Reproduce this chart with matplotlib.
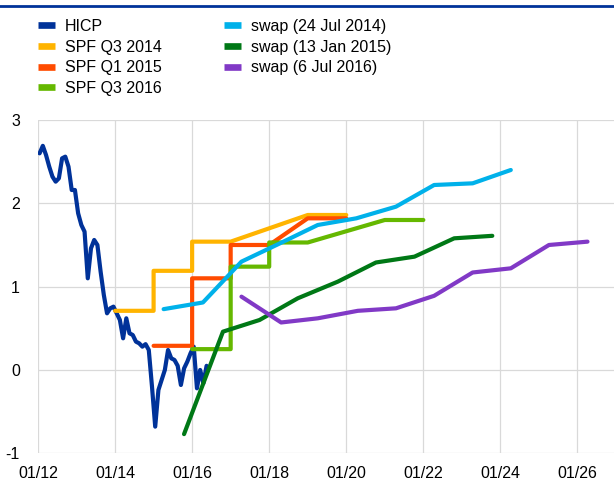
import numpy as np
import matplotlib
matplotlib.use("Agg")
import matplotlib.pyplot as plt
from matplotlib.lines import Line2D

plt.rcParams['font.family'] = ['Liberation Sans', 'DejaVu Sans']
plt.rcParams['axes.unicode_minus'] = False

# HICP, monthly, Jan 2012 - May 2016 (annual % change)
hicp = [2.60, 2.69, 2.58, 2.44, 2.32, 2.26, 2.30, 2.54, 2.56, 2.44, 2.16, 2.16,
        1.88, 1.74, 1.66, 1.10, 1.46, 1.56, 1.50, 1.18, 0.90, 0.68, 0.74, 0.76,
        0.68, 0.60, 0.38, 0.62, 0.44, 0.42, 0.34, 0.32, 0.28, 0.31, 0.24, -0.20,
        -0.68, -0.24, -0.12, 0.00, 0.24, 0.14, 0.12, 0.05, -0.18, 0.02, 0.10, 0.20,
        0.28, -0.22, 0.00, -0.16, 0.05]
hicp_start = 2012

# SPF forecasts: calendar years and values
spf_q3_2014_years = [2014, 2015, 2016, 2019]
spf_q3_2014 = [0.71, 1.19, 1.54, 1.86]
spf_q1_2015_years = [2015, 2016, 2017, 2019]
spf_q1_2015 = [0.29, 1.10, 1.50, 1.82]
spf_q3_2016_years = [2016, 2017, 2018, 2021]
spf_q3_2016 = [0.25, 1.24, 1.53, 1.80]

# inflation swap forward rates
swap_jul14_x = [2015.26, 2016.28, 2017.28, 2018.28, 2019.26, 2020.26, 2021.29, 2022.28, 2023.28, 2024.27]
swap_jul14 = [0.73, 0.81, 1.30, 1.52, 1.74, 1.82, 1.96, 2.22, 2.24, 2.40]
swap_jan15_x = [2015.79, 2016.80, 2017.75, 2018.74, 2019.78, 2020.77, 2021.77, 2022.80, 2023.79]
swap_jan15 = [-0.77, 0.46, 0.60, 0.86, 1.06, 1.29, 1.36, 1.58, 1.61]
swap_jul16_x = [2017.28, 2018.31, 2019.26, 2020.30, 2021.29, 2022.28, 2023.28, 2024.27, 2025.26, 2026.26]
swap_jul16 = [0.88, 0.57, 0.62, 0.71, 0.74, 0.89, 1.17, 1.22, 1.50, 1.54]

tick_years = [2012, 2014, 2016, 2018, 2020, 2022, 2024, 2026]
tick_labels = ["01/12", "01/14", "01/16", "01/18", "01/20", "01/22", "01/24", "01/26"]


def year_steps(years, values):
    # each forecast drawn flat across its calendar year
    xs, ys = [], []
    for y, v in zip(years, values):
        xs += [y, y + 1]
        ys += [v, v]
    return xs, ys


fig = plt.figure(figsize=(6.14, 4.8), dpi=100)
ax = fig.add_axes([38 / 614, 26.7 / 480, 578 / 614, 333.3 / 480])

lw = 3.0
hicp_x = hicp_start + (np.arange(len(hicp)) + 0.5) / 12
series = [
    ("HICP", "#003299", hicp_x, hicp),
    ("SPF Q3 2014", "#FFB400") + year_steps(spf_q3_2014_years, spf_q3_2014),
    ("SPF Q1 2015", "#FF4B00") + year_steps(spf_q1_2015_years, spf_q1_2015),
    ("SPF Q3 2016", "#65B800") + year_steps(spf_q3_2016_years, spf_q3_2016),
    ("swap (24 Jul 2014)", "#00B1EA", swap_jul14_x, swap_jul14),
    ("swap (13 Jan 2015)", "#007816", swap_jan15_x, swap_jan15),
    ("swap (6 Jul 2016)", "#8139C6", swap_jul16_x, swap_jul16),
]
handles = []
for label, color, xs, ys in series:
    ax.plot(xs, ys, color=color, lw=lw, solid_capstyle='round', solid_joinstyle='round')
    handles.append(Line2D([], [], color=color, lw=4.8, solid_capstyle='butt', label=label))

ax.set_xlim(2012, 2027)
ax.set_ylim(-1, 3)
ax.set_xticks(tick_years)
ax.set_xticklabels(tick_labels)
ax.set_yticks([-1, 0, 1, 2, 3])
ax.set_yticklabels(["-1", "0", "1", "2", "3"])
ax.tick_params(length=0, labelsize=11.5, colors='#000000')
ax.tick_params(axis='y', pad=13)
ax.tick_params(axis='x', pad=9)
ax.grid(True, color='#D9D9D9', lw=0.9)
ax.set_axisbelow(True)
for s in ax.spines.values():
    s.set_visible(False)

fig.legend(handles=handles, ncol=2, loc='upper left', bbox_to_anchor=(38 / 614, 1 - 19 / 480),
           frameon=False, fontsize=11.5, handlelength=1.05, handletextpad=0.65,
           columnspacing=3.9, labelspacing=0.35, borderpad=0, borderaxespad=0)

fig.add_artist(Line2D([0, 1], [1 - 6 / 480, 1 - 6 / 480], color='#003299', lw=2.0,
                      transform=fig.transFigure))

fig.savefig("out.png", dpi=100)
